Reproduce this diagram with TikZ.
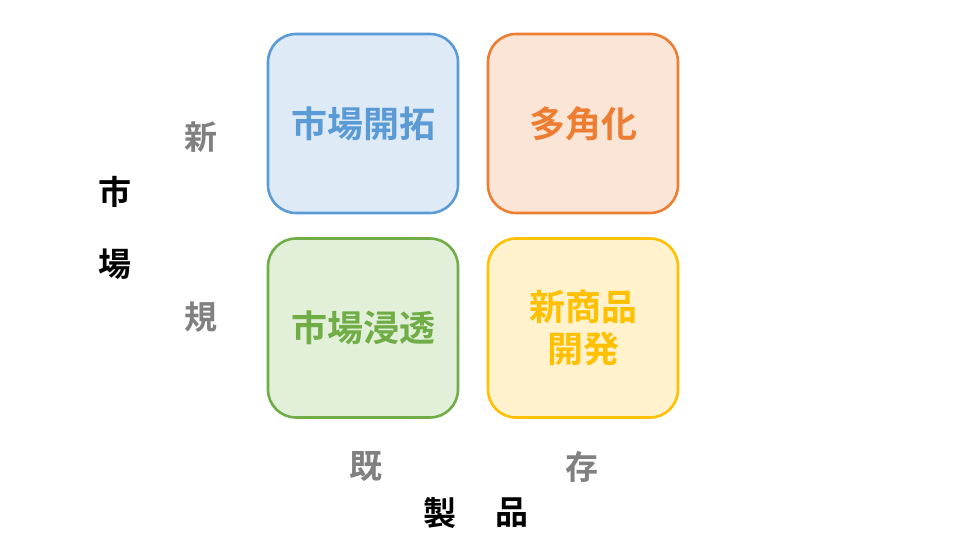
\documentclass[tikz,border=0pt]{standalone}
\usepackage{fontspec}
\setmainfont{Noto Sans CJK JP}[BoldFont={Noto Sans CJK JP Bold}]
\definecolor{bblue}{HTML}{5B9BD5}\definecolor{fblue}{HTML}{DEEBF7}
\definecolor{borange}{HTML}{ED7D31}\definecolor{forange}{HTML}{FBE5D6}
\definecolor{bgreen}{HTML}{70AD47}\definecolor{fgreen}{HTML}{E2F0D9}
\definecolor{bgold}{HTML}{FFC000}\definecolor{fgold}{HTML}{FFF2CC}
\definecolor{lgray}{HTML}{808080}
\tikzset{
  cell/.style={draw, line width=2.6pt, rounded corners=28pt, minimum width=190pt, minimum height=179pt, inner sep=0pt, align=center, font=\fontsize{36}{42}\selectfont\bfseries},
  axis/.style={font=\fontsize{33}{36}\selectfont\bfseries, text=lgray, inner sep=0pt},
  title/.style={font=\fontsize{33}{36}\selectfont\bfseries, text=black, inner sep=0pt}
}
\begin{document}
\begin{tikzpicture}[x=1pt,y=-1pt]
\useasboundingbox (0,0) rectangle (960,540);
\node[cell, draw=bblue, fill=fblue, text=bblue] (c1) at (363,123.5) {市場開拓};
\node[cell, draw=borange, fill=forange, text=borange] (c2) at (583,123.5) {多角化};
\node[cell, draw=bgreen, fill=fgreen, text=bgreen] (c3) at (363,328) {市場浸透};
\node[cell, draw=bgold, fill=fgold, text=bgold] (c4) at (583,328) {新商品\\開発};
\node[axis] (shin) at (201,137.5) {新};
\node[axis] (ki) at (201,317.5) {規};
\node[axis] (kis) at (366,467) {既};
\node[axis] (son) at (582,467) {存};
\node[title] (ichi) at (115,192) {市};
\node[title] (ba) at (115,264) {場};
\node[title] (sei) at (440,513) {製};
\node[title] (hin) at (512,513) {品};
\end{tikzpicture}
\end{document}
